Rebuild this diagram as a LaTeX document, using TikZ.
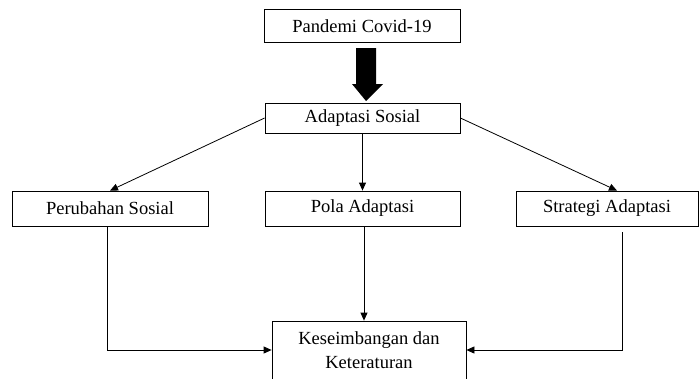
\documentclass[tikz,border=0pt]{standalone}
\usepackage{fontspec}
\setmainfont{Liberation Serif}
\usetikzlibrary{arrows.meta}
\begin{document}
\begin{tikzpicture}[x=1pt,y=-1pt,
  box/.style={draw, line width=0.8pt, inner sep=0pt, align=center,
    font=\fontsize{18.5}{24}\selectfont},
  link/.style={line width=0.8pt, -{Triangle[length=8pt,width=7pt]}}]
  \useasboundingbox (0,0) rectangle (699,378);
  \clip (0,0) rectangle (699,378);

  % boxes
  \node[box, minimum width=196pt, minimum height=33pt] (pandemi) at (362,26) {Pandemi Covid-19};
  \node[box, minimum width=195pt, minimum height=30pt] (adaptasi) at (362.5,118) {Adaptasi Sosial};
  \node[box, minimum width=196pt, minimum height=35pt] (perubahan) at (110,208.5) {Perubahan Sosial};
  \node[box, minimum width=195pt, minimum height=35pt] (pola) at (362.5,208.5) {Pola Adaptasi};
  \node[box, minimum width=182pt, minimum height=35pt] (strategi) at (607,208.5) {Strategi Adaptasi};
  \node[box, minimum width=194pt, minimum height=58pt] (hasil) at (369,350) {Keseimbangan dan\\Keteraturan};

  % thick block arrow between the top two boxes
  \fill (356,48) -- (376,48) -- (376,84) -- (383,84) -- (366,101) -- (352,84) -- (356,84) -- cycle;

  % connectors
  \draw[link] (adaptasi.west) -- (perubahan.north);
  \draw[link] (adaptasi.south) -- (pola.north -| adaptasi.south);
  \draw[link] (adaptasi.east) -- ([xshift=10pt]strategi.north);
  \draw[link] ([xshift=-3pt]perubahan.south) |- (hasil.west);
  \draw[link] ([xshift=1.5pt]pola.south) -- ([xshift=1.5pt]pola.south |- hasil.north);
  \coordinate (sgap) at ([xshift=15pt,yshift=-6pt]strategi.south);
  \draw[link] (sgap) |- (hasil.east);
\end{tikzpicture}
\end{document}
